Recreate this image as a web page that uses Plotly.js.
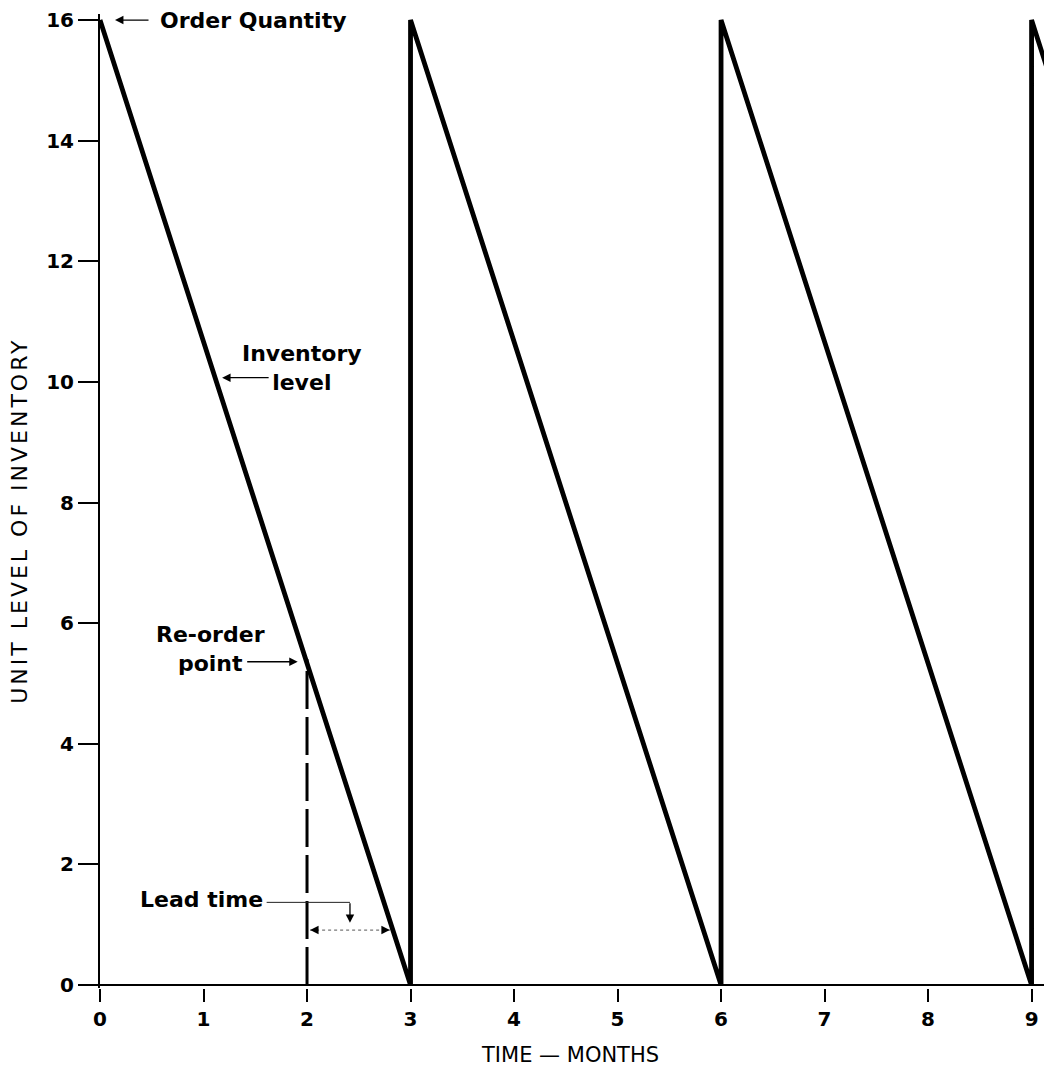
<!DOCTYPE html>
<html>
<head>
<meta charset="utf-8">
<script src="https://cdn.plot.ly/plotly-3.0.1.min.js"></script>
<style>
html,body{margin:0;padding:0;background:#fff;}
#chart{width:1044px;height:1070px;}
g.annotation[data-index="0"] text{letter-spacing:3px;}
</style>
</head>
<body>
<div id="chart"></div>
<script>
// ---- data ----
const months = [0, 3, 3, 6, 6, 9, 9, 9.2];
const inventory = [16, 0, 16, 0, 16, 0, 16, 14.93];
const reorderX = [2, 2];
const reorderY = [0, 5.4];
const leadStart = 2.03;
const leadEnd = 2.8;
const leadLevel = 0.91;
const leadConnX = [1.61, 2.415];
const leadConnY = [1.37, 1.37];
const xTickVals = [0, 1, 2, 3, 4, 5, 6, 7, 8, 9];
const yTickVals = [0, 2, 4, 6, 8, 10, 12, 14, 16];
const labelTexts = ["Order Quantity", "Inventory<br>level", "Re-order<br>point", "Lead time"];
const xTitle = "TIME \u2014 MONTHS";
const yTitle = "UNIT LEVEL OF INVENTORY";

const FONT = "'DejaVu Sans', sans-serif";

const traces = [
  {x: months, y: inventory, mode: 'lines', line: {color: '#000', width: 4.8}, hoverinfo: 'skip'},
  {x: reorderX, y: reorderY, mode: 'lines', line: {color: '#000', width: 3, dash: '38px,8px'}, hoverinfo: 'skip'},
  {x: [leadStart, leadEnd], y: [leadLevel, leadLevel], mode: 'lines', line: {color: '#555', width: 1, dash: 'dot'}, hoverinfo: 'skip'},
  {x: leadConnX, y: leadConnY, mode: 'lines', line: {color: '#222', width: 1}, hoverinfo: 'skip'}
];

function arrow(x, y, ax, ay) {
  return {x: x, y: y, xref: 'x', yref: 'y', ax: ax, ay: ay, axref: 'pixel', ayref: 'pixel',
    text: '', showarrow: true, arrowhead: 2, arrowsize: 1.3, arrowwidth: 1.3, arrowcolor: '#000'};
}
function label(x, y, t, xanchor) {
  return {x: x, y: y, xref: 'x', yref: 'y', text: t, showarrow: false, xanchor: xanchor || 'center',
    yanchor: 'middle', align: 'center', font: {family: FONT, size: 22, color: '#000', weight: 700}};
}

const annotations = [
  {x: -0.085, y: 0.48, xref: 'paper', yref: 'paper', text: yTitle, showarrow: false, textangle: -90,
    xanchor: 'center', yanchor: 'middle', font: {family: FONT, size: 22, color: '#000'}},
  {x: 0.498, y: -0.069, xref: 'paper', yref: 'paper', text: xTitle, showarrow: false,
    xanchor: 'center', yanchor: 'middle', font: {family: FONT, size: 21, color: '#000'}},
  label(0.56, 16, labelTexts[0], 'left'),
  label(1.95, 10.23, labelTexts[1]),
  label(1.07, 5.57, labelTexts[2]),
  label(0.367, 1.41, labelTexts[3], 'left'),
  arrow(0.145, 16, 35, 0),
  arrow(1.18, 10.07, 48, 0),
  arrow(1.91, 5.36, -52, 0),
  arrow(leadConnX[1], 1.03, 0, -21),
  arrow(leadStart, leadLevel, 8, 0),
  arrow(leadEnd, leadLevel, -8, 0)
];

const layout = {
  width: 1044, height: 1070,
  margin: {l: 100, r: 0, t: 14, b: 82},
  paper_bgcolor: '#fff', plot_bgcolor: '#fff',
  showlegend: false,
  xaxis: {range: [0, 9.12], tickvals: xTickVals, ticks: 'outside', ticklen: 13, tickwidth: 2, tickcolor: '#000',
    showgrid: false, zeroline: false, showline: false,
    tickfont: {family: FONT, size: 20, color: '#000', weight: 700}},
  yaxis: {range: [-0.05, 16.1], tickvals: yTickVals, ticks: 'outside', ticklen: 20, tickwidth: 2, tickcolor: '#000',
    showgrid: false, zeroline: true, zerolinecolor: '#000', zerolinewidth: 2,
    showline: true, linecolor: '#000', linewidth: 2,
    tickfont: {family: FONT, size: 20, color: '#000', weight: 700}},
  annotations: annotations
};

Plotly.newPlot('chart', traces, layout, {displayModeBar: false, staticPlot: true});
</script>
</body>
</html>
